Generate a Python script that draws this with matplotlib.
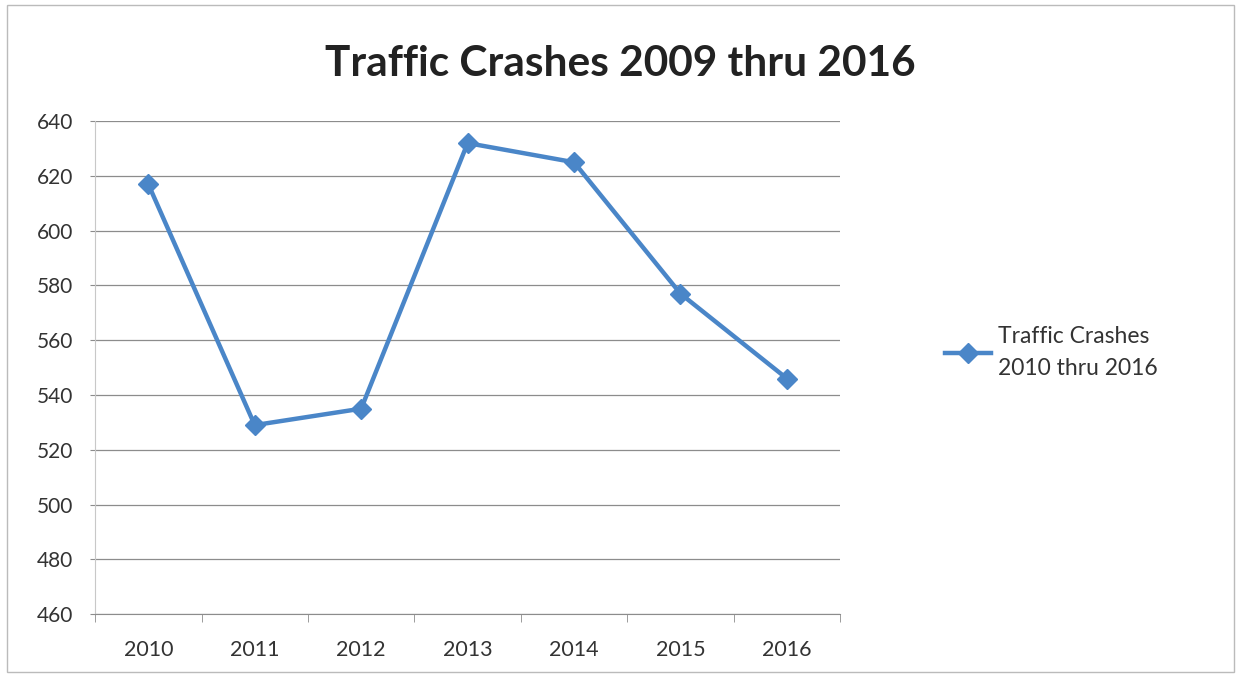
import matplotlib.pyplot as plt
import matplotlib.patches as patches

years = ["2010", "2011", "2012", "2013", "2014", "2015", "2016"]
crashes = [617, 529, 535, 632, 625, 577, 546]
y_ticks = [460, 480, 500, 520, 540, 560, 580, 600, 620, 640]

plt.rcParams['font.family'] = ['Lato', 'DejaVu Sans']

fig = plt.figure(figsize=(12.41, 6.77), dpi=100)
ax = fig.add_axes([0.0766, 0.093, 0.6004, 0.728])

blue = '#4A86C8'
x = range(len(years))
ax.plot(x, crashes, color=blue, linewidth=3.2, marker='D', markersize=10,
        label="Traffic Crashes\n2010 thru 2016")

ax.set_xlim(-0.5, len(years) - 0.5)
ax.set_ylim(460, 640)
ax.set_yticks(y_ticks)
ax.set_xticks(list(x))
ax.set_xticklabels(years)
ax.grid(axis='y', color='#8c8c8c', linewidth=0.9)
ax.set_axisbelow(True)

# category boundary ticks below the axis
ax.set_xticks([i - 0.5 for i in range(len(years) + 1)], minor=True)
ax.tick_params(axis='x', which='minor', length=6, color='#8c8c8c', direction='out')
ax.tick_params(axis='x', which='major', length=0, pad=19, labelsize=15.5, labelcolor='#333333')
ax.tick_params(axis='y', length=3.6, color='#8c8c8c', pad=12, labelsize=15, labelcolor='#333333')

for s in ['top', 'right']:
    ax.spines[s].set_visible(False)
ax.spines['left'].set_color('#c8c8c8')
ax.spines['bottom'].set_color('#8c8c8c')

fig.suptitle("Traffic Crashes 2009 thru 2016", x=0.5, y=0.905, va='center', fontsize=30.5,
             fontweight='bold', color='#222222')

leg = ax.legend(loc='center left', bbox_to_anchor=(1.113, 0.53), frameon=False,
                fontsize=16.5, handlelength=2.0, handletextpad=0.3, labelcolor='#333333')
for t in leg.get_texts():
    t.set_linespacing(1.65)

# outer frame
fig.patches.append(patches.Rectangle((0.006, 0.007), 0.988, 0.985, transform=fig.transFigure,
                                     fill=False, edgecolor='#bbbbbb', linewidth=1))

fig.savefig("out.png", dpi=100)
